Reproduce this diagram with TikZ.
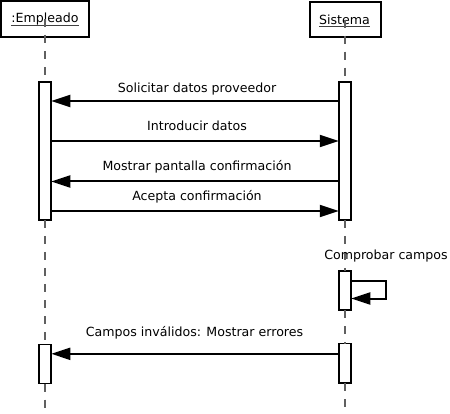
\documentclass[tikz,border=0pt]{standalone}
\usepackage{fontspec}
\setmainfont{DejaVu Sans}
\usetikzlibrary{arrows.meta}
\definecolor{lifegray}{HTML}{606060}
\begin{document}
\begin{tikzpicture}[x=1pt,y=-1pt,
  every node/.style={font=\fontsize{12.6}{15}\selectfont, inner sep=0pt, outer sep=0pt},
  headbox/.style={draw, line width=2pt, fill=white},
  actbox/.style={draw, line width=1.8pt, fill=white, minimum width=12.5pt},
  msg/.style={line width=2pt, -{Triangle[length=19pt,width=12pt]}},
  life/.style={draw=lifegray, line width=1.3pt, dash pattern=on 8pt off 8pt},
  uline/.style={draw=black!75, line width=1pt},
  lbl/.style={anchor=base}]
\useasboundingbox (0,0) rectangle (450,414);

% heads
\node[headbox, minimum width=88pt, minimum height=36pt] (e0) at (45,19) {};
\node[headbox, minimum width=71pt, minimum height=35.5pt] (s0) at (345,19.75) {};
\node[lbl] (e0t) at (45,22.7) {:Empleado};
\node[lbl] (s0t) at (344.5,24.3) {Sistema};
\draw[uline] ([yshift=-2.4pt]e0t.base west) -- ([yshift=-2.4pt]e0t.base east);
\draw[uline] ([yshift=-2.4pt]s0t.base west) -- ([yshift=-2.4pt]s0t.base east);

% activations
\node[actbox, minimum height=138pt] (e1) at (45,151) {};
\node[actbox, minimum height=138pt] (s1) at (345,151) {};
\node[actbox, minimum height=39pt] (s2) at (345,290.5) {};
\node[actbox, minimum height=39pt] (e3) at (45,364) {};
\node[actbox, minimum height=39.5pt] (s3) at (345,363.3) {};

\coordinate (eend) at (45,414);
\coordinate (send) at (345,414);

% lifelines
\draw[life] (e0.center) -- (e1.north);
\draw[life] (e1.south) -- (e3.north);
\draw[life] (e3.south) -- (eend);
\draw[life] (s0.center) -- (s1.north);
\draw[life] (s1.south) -- (s2.north);
\draw[life] (s2.south) -- (s3.north);
\draw[life] (s3.south) -- (send);

% messages
\node[lbl] (m1) at (197,92.7) {Solicitar datos proveedor};
\draw[msg] (s1.west |- 0,101) -- (e1.east |- 0,101);
\node[lbl] (m2) at (197,130.5) {Introducir datos};
\draw[msg] (e1.east |- 0,141) -- (s1.west |- 0,141);
\node[lbl] (m3) at (197,170.7) {Mostrar pantalla confirmación};
\draw[msg] (s1.west |- 0,181.5) -- (e1.east |- 0,181.5);
\node[lbl] (m4) at (197,201) {Acepta confirmación};
\draw[msg] (e1.east |- 0,211) -- (s1.west |- 0,211);
\node[lbl] (m5) at (386,260) {Comprobar campos};
\draw[msg] (s2.east |- 0,281) -- (386,281) -- (386,298.5) -- (s2.east |- 0,298.5);
\node[lbl] (m6) at (194.5,336) {Campos inválidos: Mostrar errores};
\draw[msg] (s3.west |- 0,353.8) -- (e3.east |- 0,353.8);
\end{tikzpicture}
\end{document}
